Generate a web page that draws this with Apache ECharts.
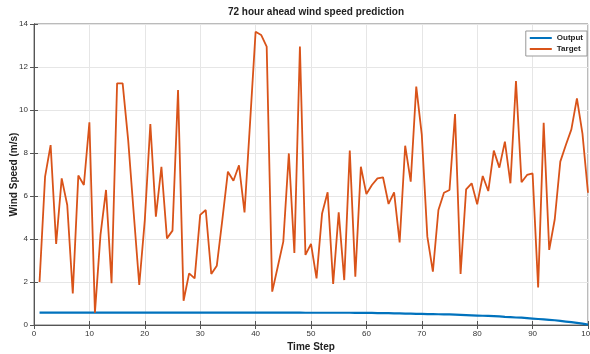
<!DOCTYPE html>
<html><head><meta charset="utf-8">
<script src="https://cdn.jsdelivr.net/npm/echarts@6/dist/echarts.min.js"></script>
<style>html,body{margin:0;padding:0;background:#fff}#c{width:590px;height:354px}</style>
</head><body><div id="c"></div>
<script>
const titleText = '72 hour ahead wind speed prediction';
const xTicks = [0,10,20,30,40,50,60,70,80,90,100];
const yTicks = [0,2,4,6,8,10,12,14];
const target = [2.0,6.9,8.37,3.77,6.82,5.58,1.47,6.95,6.51,9.43,
0.57,4.19,6.28,1.94,11.24,11.24,8.6,5.2,1.86,4.88,
9.35,5.04,7.36,4.03,4.39,10.93,1.13,2.4,2.17,5.12,
5.35,2.37,2.76,4.9,7.13,6.71,7.43,5.24,9.4,13.64,
13.49,12.95,1.55,2.71,3.88,7.98,3.35,12.95,3.26,3.77,
2.17,5.19,6.17,1.91,5.24,2.09,8.11,2.25,7.36,6.09,
6.51,6.82,6.87,5.63,6.17,3.84,8.34,6.67,11.09,8.84,
4.11,2.48,5.35,6.15,6.28,9.81,2.37,6.31,6.59,5.61,
6.93,6.23,8.11,7.32,8.53,6.59,11.35,6.64,6.98,7.05,
1.75,9.41,3.49,4.92,7.6,8.37,9.1,10.54,8.9,6.15];
const output = [0.58,0.58,0.58,0.58,0.58,0.58,0.58,0.58,0.58,0.58,
0.58,0.58,0.58,0.58,0.58,0.58,0.58,0.58,0.58,0.58,
0.58,0.58,0.58,0.58,0.58,0.58,0.58,0.58,0.58,0.58,
0.58,0.58,0.58,0.58,0.58,0.58,0.58,0.58,0.58,0.58,
0.58,0.58,0.58,0.58,0.58,0.58,0.58,0.58,0.57,0.57,
0.57,0.57,0.57,0.57,0.57,0.57,0.57,0.56,0.56,0.56,
0.56,0.55,0.55,0.55,0.54,0.54,0.53,0.53,0.52,0.52,
0.51,0.51,0.50,0.49,0.49,0.48,0.47,0.46,0.45,0.44,
0.43,0.42,0.41,0.40,0.38,0.37,0.35,0.34,0.32,0.30,
0.28,0.26,0.24,0.22,0.19,0.16,0.13,0.10,0.06,0.02];
const steps = target.map((_, i) => i + 1);

const chart = echarts.init(document.getElementById('c'), null, {renderer: 'canvas'});
const font = 'Liberation Sans, Arial, sans-serif';
const axisCommon = {
  type: 'value', min: 0, splitLine: {show: true, lineStyle: {color: '#e6e6e6', width: 1}},
  axisLine: {show: true, lineStyle: {color: '#555', width: 1}},
  axisTick: {show: true, inside: true, length: 4, lineStyle: {color: '#555'}},
  axisLabel: {color: '#333', fontSize: 8, fontFamily: font}
};
chart.setOption({
  animation: false,
  backgroundColor: '#fff',
  title: {text: titleText, left: 311, top: 2, textAlign: 'center',
    textStyle: {fontSize: 10, fontWeight: 'bold', color: '#222', fontFamily: font}},
  grid: {left: 34, right: 2, top: 24, bottom: 29, show: true, borderColor: '#777', borderWidth: 1,
    containLabel: false, outerBoundsMode: 'none'},
  legend: {
    orient: 'vertical', right: 3, top: 31, itemWidth: 22, itemHeight: 2, itemGap: 3,
    padding: [3, 4, 3, 4], borderColor: '#999', borderWidth: 1, backgroundColor: '#fff',
    textStyle: {fontSize: 8, fontWeight: 'bold', color: '#222', fontFamily: font},
    icon: 'rect', data: ['Output', 'Target']
  },
  xAxis: [
    Object.assign({}, axisCommon, {max: 100, interval: 10, position: 'bottom',
      name: 'Time Step', nameLocation: 'middle', nameGap: 17, nameMoveOverlap: false,
      nameTextStyle: {fontSize: 10, fontWeight: 'bold', color: '#222', fontFamily: font},
      axisLabel: {color: '#333', fontSize: 8, fontFamily: font, margin: 5}}),
    Object.assign({}, axisCommon, {max: 100, interval: 10, position: 'top', axisLabel: {show: false}, splitLine: {show: false}})
  ],
  yAxis: [
    Object.assign({}, axisCommon, {max: 14, interval: 2, position: 'left',
      name: 'Wind Speed (m/s)', nameLocation: 'middle', nameGap: 15, nameMoveOverlap: false,
      nameTextStyle: {fontSize: 10, fontWeight: 'bold', color: '#222', fontFamily: font},
      axisLabel: {color: '#333', fontSize: 8, fontFamily: font, margin: 6}}),
    Object.assign({}, axisCommon, {max: 14, interval: 2, position: 'right', axisLabel: {show: false}, splitLine: {show: false}})
  ],
  series: [
    {name: 'Output', type: 'line', xAxisIndex: 0, yAxisIndex: 0, showSymbol: false,
      data: steps.map((s, i) => [s, output[i]]), lineStyle: {color: '#0072BD', width: 2.2}, itemStyle: {color: '#0072BD'}},
    {name: 'Target', type: 'line', xAxisIndex: 0, yAxisIndex: 0, showSymbol: false,
      data: steps.map((s, i) => [s, target[i]]), lineStyle: {color: '#D95319', width: 1.8}, itemStyle: {color: '#D95319'}}
  ]
});
</script></body></html>
